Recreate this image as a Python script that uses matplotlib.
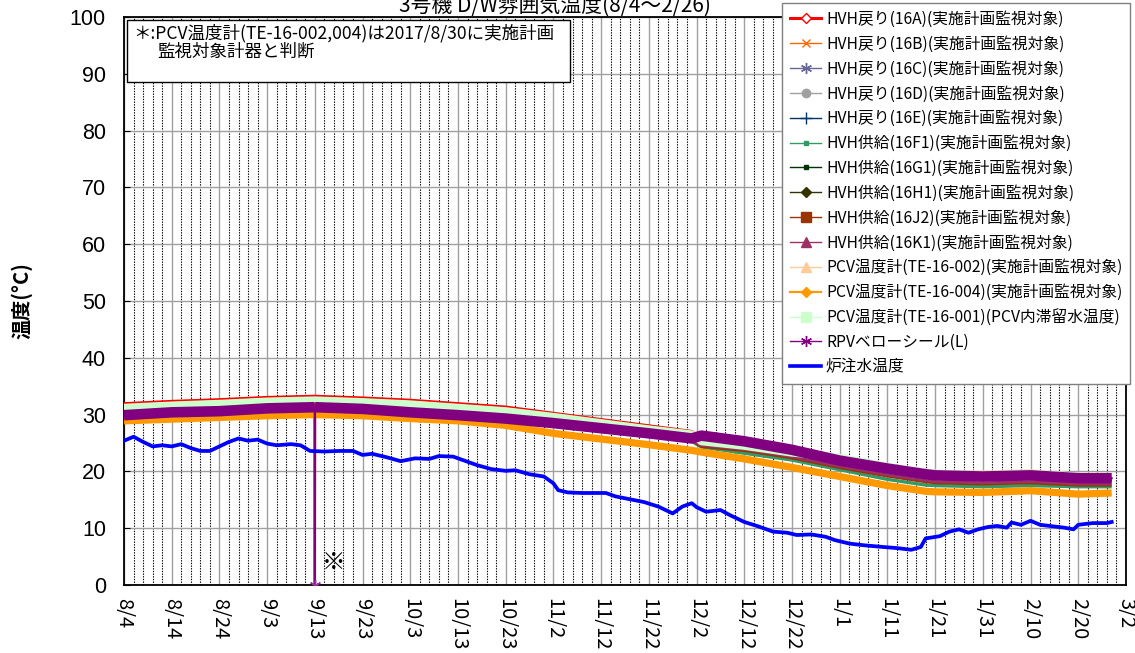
import matplotlib
matplotlib.use('Agg')
import matplotlib.pyplot as plt
from matplotlib.lines import Line2D
from matplotlib.patches import Rectangle
import numpy as np
import pandas as pd

plt.rcParams['font.family'] = ['Noto Sans CJK JP', 'DejaVu Sans']

# ---------------- data ----------------
band_dates = ["2017-08-04", "2017-08-14", "2017-08-24", "2017-09-03", "2017-09-12 23:00",
              "2017-09-13 00:00", "2017-09-13 01:00", "2017-09-23", "2017-10-03", "2017-10-13",
              "2017-10-23", "2017-11-02", "2017-11-12", "2017-11-22", "2017-12-01",
              "2017-12-03", "2017-12-12", "2017-12-22", "2018-01-01", "2018-01-11",
              "2018-01-19", "2018-01-21", "2018-01-31", "2018-02-10", "2018-02-20", "2018-02-27"]

hvh_16a = [32.0, 32.4, 32.7, 33.1, 33.3, 0.0, 33.3, 33.0, 32.6, 32.0, 31.4, 30.3, 29.2, 28.1, 27.1,
           26.0, 25.0, 23.5, 21.6, 20.2, 19.2, 19.0, 18.8, 19.0, 18.5, 18.5]
hvh_16b = [30.0, 30.5, 30.7, 31.2, 31.4, 31.4, 31.4, 31.1, 30.5, 30.0, 29.4, 28.6, 27.7, 26.8, 25.9,
           26.4, 25.4, 23.9, 22.0, 20.6, 19.6, 19.4, 19.2, 19.4, 18.9, 18.9]
hvh_16c = [29.8, 30.3, 30.5, 31.0, 31.2, 31.2, 31.2, 30.9, 30.3, 29.8, 29.2, 28.4, 27.5, 26.6, 25.7,
           26.2, 25.2, 23.7, 21.8, 20.4, 19.4, 19.2, 19.0, 19.2, 18.7, 18.7]
hvh_16d = [29.9, 30.4, 30.6, 31.1, 31.3, 31.3, 31.3, 31.0, 30.4, 29.9, 29.3, 28.5, 27.6, 26.7, 25.8,
           26.3, 25.3, 23.8, 21.9, 20.5, 19.5, 19.3, 19.1, 19.3, 18.8, 18.8]
hvh_16e = [29.6, 30.1, 30.3, 30.8, 31.0, 31.0, 31.0, 30.7, 30.1, 29.6, 29.0, 28.2, 27.3, 26.4, 25.5,
           26.0, 25.0, 23.5, 21.6, 20.2, 19.2, 19.0, 18.8, 19.0, 18.5, 18.5]
hvh_16f1 = [29.4, 29.9, 30.1, 30.6, 30.8, 30.8, 30.8, 30.5, 29.9, 29.4, 28.8, 28.0, 27.1, 26.2, 25.3,
            24.3, 23.2, 22.0, 20.3, 18.6, 17.6, 17.5, 17.3, 17.5, 17.3, 17.3]
hvh_16g1 = [29.7, 30.2, 30.4, 30.9, 31.1, 31.1, 31.1, 30.8, 30.2, 29.7, 29.1, 28.3, 27.4, 26.5, 25.6,
            26.1, 25.1, 23.6, 21.7, 20.3, 19.3, 19.1, 18.9, 19.1, 18.6, 18.6]
hvh_16h1 = [29.9, 30.4, 30.6, 31.1, 31.3, 31.3, 31.3, 31.0, 30.4, 29.9, 29.3, 28.5, 27.6, 26.7, 25.8,
            26.3, 25.3, 23.8, 21.9, 20.5, 19.5, 19.3, 19.1, 19.3, 18.8, 18.8]
hvh_16j2 = [29.4, 29.9, 30.1, 30.6, 30.8, 30.8, 30.8, 30.5, 29.9, 29.4, 28.8, 28.0, 27.1, 26.2, 25.3,
            24.3, 23.6, 22.3, 20.6, 19.1, 18.1, 17.9, 17.7, 17.9, 17.5, 17.5]
hvh_16k1 = [29.5, 30.0, 30.2, 30.7, 30.9, 30.9, 30.9, 30.6, 30.0, 29.5, 28.9, 28.1, 27.2, 26.3, 25.4,
            24.6, 23.9, 22.6, 20.9, 19.4, 18.4, 18.2, 18.0, 18.2, 17.8, 17.8]
pcv_002 = [31.2, 31.6, 31.9, 32.3, 32.5, 32.5, 32.5, 32.2, 31.8, 31.2, 30.6, 29.6, 28.5, 27.4, 26.5,
           25.5, 24.8, 23.6, 22.2, 20.9, 20.0, 19.9, 19.8, 20.0, 19.4, 19.4]
pcv_004 = [28.9, 29.2, 29.5, 29.8, 30.0, 30.0, 30.0, 29.8, 29.3, 28.9, 28.1, 26.7, 25.7, 24.7, 23.7,
           23.4, 22.2, 20.7, 19.1, 17.5, 16.5, 16.4, 16.3, 16.6, 16.0, 16.2]
pcv_001 = [31.3, 31.7, 32.0, 32.4, 32.6, 32.6, 32.6, 32.3, 31.9, 31.3, 30.7, 29.7, 28.6, 27.5, 26.6,
           25.2, 24.4, 23.2, 22.5, 20.9, 19.9, 19.7, 19.5, 19.7, 19.2, 19.2]
rpv_seal = [29.9, 30.4, 30.6, 31.1, 31.3, 0.0, 31.3, 31.0, 30.4, 29.9, 29.3, 28.5, 27.6, 26.7, 25.8,
            26.3, 25.3, 23.8, 21.9, 20.5, 19.5, 19.3, 19.1, 19.3, 18.8, 18.8]

inj_dates = ["2017-08-04", "2017-08-06", "2017-08-08", "2017-08-10", "2017-08-12", "2017-08-14",
             "2017-08-16", "2017-08-18", "2017-08-20", "2017-08-22", "2017-08-24", "2017-08-26",
             "2017-08-28", "2017-08-30", "2017-09-01", "2017-09-03", "2017-09-05", "2017-09-08",
             "2017-09-10", "2017-09-12", "2017-09-15", "2017-09-18", "2017-09-21", "2017-09-23",
             "2017-09-25", "2017-09-28", "2017-10-01", "2017-10-04", "2017-10-07", "2017-10-09",
             "2017-10-12", "2017-10-14", "2017-10-17", "2017-10-20", "2017-10-23", "2017-10-25",
             "2017-10-28", "2017-10-31", "2017-11-02", "2017-11-03", "2017-11-05", "2017-11-08",
             "2017-11-13", "2017-11-15", "2017-11-18", "2017-11-21", "2017-11-24", "2017-11-27",
             "2017-11-29", "2017-12-01", "2017-12-02", "2017-12-04", "2017-12-07", "2017-12-09",
             "2017-12-12", "2017-12-15", "2017-12-18", "2017-12-21", "2017-12-23", "2017-12-26",
             "2017-12-29", "2017-12-31", "2018-01-03", "2018-01-06", "2018-01-10", "2018-01-13",
             "2018-01-16", "2018-01-18", "2018-01-19", "2018-01-22", "2018-01-24", "2018-01-26",
             "2018-01-28", "2018-01-30", "2018-02-01", "2018-02-03", "2018-02-05", "2018-02-06",
             "2018-02-08", "2018-02-10", "2018-02-12", "2018-02-15", "2018-02-17", "2018-02-19",
             "2018-02-20", "2018-02-23", "2018-02-26", "2018-02-27"]
inj_temp = [25.4, 26.1, 25.2, 24.4, 24.6, 24.4, 24.8, 24.1, 23.6, 23.6, 24.4, 25.2,
            25.8, 25.4, 25.6, 24.9, 24.6, 24.8, 24.6, 23.6, 23.5, 23.6, 23.6, 22.9,
            23.1, 22.5, 21.8, 22.3, 22.2, 22.7, 22.6, 22.0, 21.1, 20.4, 20.1, 20.2,
            19.5, 19.1, 17.9, 16.7, 16.3, 16.2, 16.2, 15.6, 15.1, 14.6, 13.8, 12.6,
            13.8, 14.4, 13.7, 12.9, 13.2, 12.3, 11.1, 10.3, 9.4, 9.2, 8.8, 8.9,
            8.5, 7.9, 7.3, 7.0, 6.7, 6.5, 6.2, 6.7, 8.2, 8.6, 9.4, 9.8,
            9.2, 9.8, 10.2, 10.4, 10.1, 11.0, 10.6, 11.3, 10.6, 10.3, 10.1, 9.8,
            10.6, 10.9, 10.9, 11.1]

tick_labels = ["8/4", "8/14", "8/24", "9/3", "9/13", "9/23", "10/3", "10/13", "10/23", "11/2",
               "11/12", "11/22", "12/2", "12/12", "12/22", "1/1", "1/11", "1/21", "1/31", "2/10",
               "2/20", "3/2"]

labels = ["HVH戻り(16A)(実施計画監視対象)", "HVH戻り(16B)(実施計画監視対象)",
          "HVH戻り(16C)(実施計画監視対象)", "HVH戻り(16D)(実施計画監視対象)",
          "HVH戻り(16E)(実施計画監視対象)", "HVH供給(16F1)(実施計画監視対象)",
          "HVH供給(16G1)(実施計画監視対象)", "HVH供給(16H1)(実施計画監視対象)",
          "HVH供給(16J2)(実施計画監視対象)", "HVH供給(16K1)(実施計画監視対象)",
          "PCV温度計(TE-16-002)(実施計画監視対象)", "PCV温度計(TE-16-004)(実施計画監視対象)",
          "PCV温度計(TE-16-001)(PCV内滞留水温度)", "RPVベローシール(L)", "炉注水温度"]

# ---------------- styles ----------------
# (color, band linewidth, legend marker, marker size, marker face, legend lw)
styles = [
    ("#FF0000", 1.6, "D", 5, "white", 2.2),
    ("#FF6600", 2.5, "x", 6, None, 1.0),
    ("#666699", 2.5, (6, 2, 0), 8, None, 1.0),
    ("#A0A0A0", 2.5, "o", 6, None, 1.0),
    ("#003366", 2.5, "+", 8, None, 1.0),
    ("#339966", 2.4, "s", 3, None, 1.0),
    ("#003300", 2.5, "s", 3, None, 1.0),
    ("#333300", 2.5, "D", 5, None, 1.0),
    ("#993300", 1.5, "s", 7, None, 1.0),
    ("#993366", 2.0, "^", 7, None, 1.0),
    ("#FFCC99", 3.0, "^", 7, None, 1.0),
    ("#FF9900", 5.2, "D", 5, None, 1.6),
    ("#CCFFCC", 5.0, "s", 7, None, 1.0),
    ("#800080", 7.6, (6, 2, 0), 8, None, 1.0),
    ("#0000FF", 2.7, None, 0, None, 2.6),
]

band_series = [hvh_16a, hvh_16b, hvh_16c, hvh_16d, hvh_16e, hvh_16f1, hvh_16g1, hvh_16h1,
               hvh_16j2, hvh_16k1, pcv_002, pcv_004, pcv_001, rpv_seal]

W, H = 1135, 653
fig = plt.figure(figsize=(W / 100, H / 100), dpi=100)
ax = fig.add_axes([124 / W, 68 / H, 1002 / W, 568 / H])

bd = pd.to_datetime(band_dates, format='mixed')
for i, vals in enumerate(band_series):
    col, lw = styles[i][0], styles[i][1]
    v = np.array(vals, dtype=float)
    if i == 13:
        thick = np.where(v == 0, np.nan, v)
        ax.plot(bd, thick, color=col, lw=lw, solid_capstyle='butt', zorder=3 + i)
        ax.plot(bd, v, color=col, lw=1.5, zorder=3 + i, marker=(6, 2, 0), ms=8,
                markevery=[5], mec="#993399")
    else:
        ax.plot(bd, v, color=col, lw=lw, solid_capstyle='butt', zorder=3 + i)

ax.plot(pd.to_datetime(inj_dates), inj_temp, color="#0000FF", lw=2.7, zorder=20)

# axes
start = pd.Timestamp("2017-08-04")
end = pd.Timestamp("2018-03-02")
major = pd.date_range(start, end, freq="10D")
majset = set(major)
minor = [d for d in pd.date_range(start, end, freq="2D") if d not in majset]
ax.set_xlim(start, end)
ax.set_ylim(0, 100)
ax.set_xticks(major)
ax.set_xticklabels(tick_labels, rotation=-90, fontsize=14.5)
ax.set_xticks(minor, minor=True)
ax.set_yticks(range(0, 101, 10))
ax.tick_params(axis='y', labelsize=15.5, direction='in', length=4, pad=13)
ax.tick_params(axis='x', which='both', length=0, pad=9)
for lab in ax.get_yticklabels():
    lab.set_fontfamily(['Liberation Sans', 'DejaVu Sans'])
for lab in ax.get_xticklabels():
    lab.set_verticalalignment('top')
ax.grid(which='major', axis='both', color='#A0A0A0', lw=1.0, zorder=0)
ax.grid(which='minor', axis='x', color='#000000', lw=0.8, ls=(0, (1.2, 1.2)), zorder=0)
ax.set_axisbelow(True)
for s in ax.spines.values():
    s.set_color('black')
    s.set_linewidth(1.3)

ax.set_ylabel("温度(°C)", fontsize=14.5, fontweight='bold')
ax.yaxis.set_label_coords(-0.091, 0.5)

# note box
ax.add_patch(Rectangle((0.003, 0.8856), 0.442, 0.109, transform=ax.transAxes,
                       facecolor='white', edgecolor='black', lw=1.0, zorder=30))
ax.text(0.009, 0.9718, "＊:PCV温度計(TE-16-002,004)は2017/8/30に実施計画", transform=ax.transAxes,
        fontsize=12.6, va='center', ha='left', zorder=31)
ax.text(0.033, 0.9384, "監視対象計器と判断", transform=ax.transAxes,
        fontsize=12.6, va='center', ha='left', zorder=31)

ax.text(pd.Timestamp("2017-09-17"), 3.9, "※", fontsize=17, ha='center', va='center', zorder=25)

# title (partly clipped at the top like the reference)
fig.text(555 / W, 1 - 12 / H, "3号機 D/W雰囲気温度(8/4～2/26)", fontsize=15,
         ha='center', va='baseline')

# legend
handles = []
for col, lw, mk, ms, mfc, llw in styles:
    handles.append(Line2D([], [], color=col, lw=llw, marker=mk, ms=ms,
                          mfc=(mfc if mfc else col), mec=col))
leg = ax.legend(handles, labels, loc='upper left', bbox_to_anchor=(782 / W, 1 - 3 / H),
                bbox_transform=fig.transFigure, fontsize=11.3, frameon=True, fancybox=False,
                edgecolor='#808080', framealpha=1, borderaxespad=0, borderpad=0.5,
                labelspacing=0.5, handlelength=2.0, handletextpad=0.3)
leg.set_zorder(40)
leg.get_frame().set_linewidth(1.0)

fig.savefig("out.png", dpi=100)
